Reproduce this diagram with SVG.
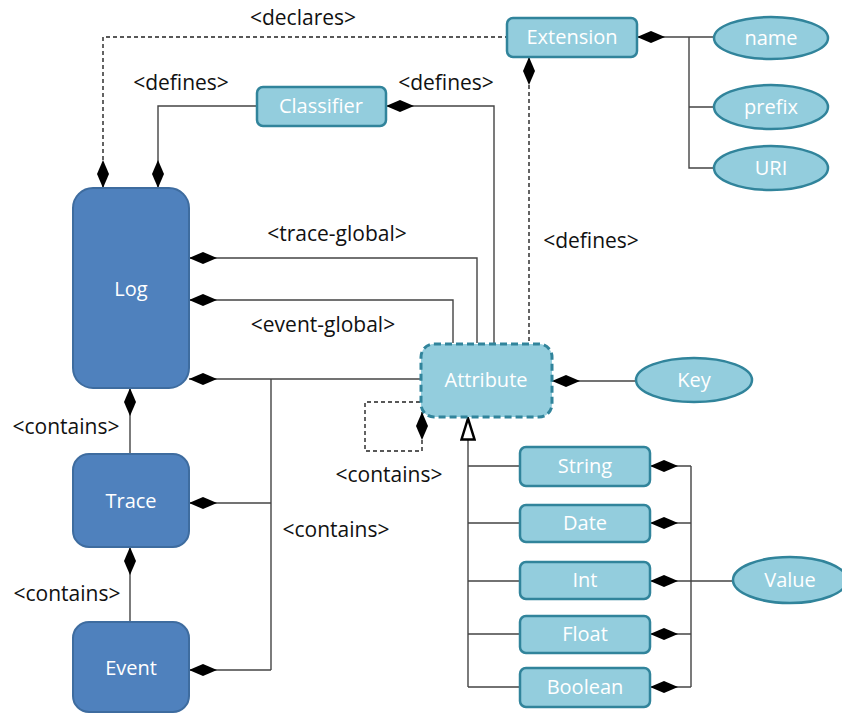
<svg xmlns="http://www.w3.org/2000/svg" width="842" height="715" viewBox="0 0 842 715">
  <style>
    .lbl { font-family: "Open Sans", "Noto Sans", "Liberation Sans", sans-serif; font-size: 21px; fill: #111; text-anchor: middle; }
    .ntxt { font-family: "Open Sans", "Noto Sans", "Liberation Sans", sans-serif; font-size: 20px; fill: #ffffff; text-anchor: middle; }
    .main { fill: #4f81bd; stroke: #3e6c9f; stroke-width: 2; }
    .sub { fill: #93cddd; stroke: #31849b; stroke-width: 2.5; }
    .abs { fill: #93cddd; stroke: #31849b; stroke-width: 3; stroke-dasharray: 7 4; }
    .ln { fill: none; stroke: #444; stroke-width: 1.4; }
    .dash { stroke: #222; stroke-dasharray: 4 3; }
    .comp { marker-start: url(#diamond); }
  </style>
  <defs>
    <marker id="diamond" viewBox="0 0 28 12" refX="0" refY="6" markerWidth="28" markerHeight="12" markerUnits="userSpaceOnUse" orient="auto">
      <path d="M0,6 L14,0 L28,6 L14,12 z" fill="#000"/>
    </marker>
    <marker id="triangle" viewBox="0 0 24 16" refX="23" refY="8" markerWidth="24" markerHeight="16" markerUnits="userSpaceOnUse" orient="auto">
      <path d="M1.5,1.5 L22.5,8 L1.5,14.5 z" fill="#fff" stroke="#000" stroke-width="2.5"/>
    </marker>
  </defs>

  <!-- connectors -->
  <g id="connectors">
    <path class="ln dash comp" d="M103,188 V37 H506"/>
    <path class="ln comp" d="M158,188 V106 H256"/>
    <path class="ln comp" d="M386,106 H494 V343"/>
    <path class="ln dash comp" d="M529,57 V343"/>
    <path class="ln comp" d="M637,37 H714"/>
    <path class="ln" d="M689,37 V168 H714 M689,107 H714"/>
    <path class="ln comp" d="M189,258 H477 V343"/>
    <path class="ln comp" d="M189,300 H453 V343"/>
    <path class="ln comp" d="M189,379 H420"/>
    <path class="ln comp" d="M189,503 H271"/>
    <path class="ln comp" d="M189,670 H271"/>
    <path class="ln" d="M271,379 V670"/>
    <path class="ln comp" d="M130,388 V454"/>
    <path class="ln comp" d="M130,547 V622"/>
    <path class="ln comp" d="M552,381 H636"/>
    <path class="ln dash comp" d="M422,412 V451 H365 V402 H420"/>
    <path class="ln" d="M468,687 V418" marker-end="url(#triangle)"/>
    <path class="ln" d="M468,466 H519 M468,523 H519 M468,581 H519 M468,634 H519 M468,687 H519"/>
    <path class="ln comp" d="M650,466 H691"/>
    <path class="ln comp" d="M650,523 H691"/>
    <path class="ln comp" d="M650,581 H691"/>
    <path class="ln comp" d="M650,634 H691"/>
    <path class="ln comp" d="M650,687 H691"/>
    <path class="ln" d="M691,466 V687 M691,581 H733"/>
  </g>

  <!-- connector labels -->
  <g id="labels">
    <text class="lbl" x="303" y="25">&lt;declares&gt;</text>
    <text class="lbl" x="181" y="90">&lt;defines&gt;</text>
    <text class="lbl" x="446" y="90">&lt;defines&gt;</text>
    <text class="lbl" x="337" y="241">&lt;trace-global&gt;</text>
    <text class="lbl" x="323" y="332">&lt;event-global&gt;</text>
    <text class="lbl" x="591" y="248">&lt;defines&gt;</text>
    <text class="lbl" x="389" y="482">&lt;contains&gt;</text>
    <text class="lbl" x="66" y="434">&lt;contains&gt;</text>
    <text class="lbl" x="67" y="601">&lt;contains&gt;</text>
    <text class="lbl" x="336" y="537">&lt;contains&gt;</text>
  </g>

  <!-- main elements -->
  <g id="log">
    <rect class="main" x="73" y="188" width="116" height="200" rx="20"/>
    <text class="ntxt" x="131" y="296">Log</text>
  </g>
  <g id="trace">
    <rect class="main" x="73" y="454" width="116" height="93" rx="16"/>
    <text class="ntxt" x="131" y="508">Trace</text>
  </g>
  <g id="event">
    <rect class="main" x="73" y="622" width="116" height="90" rx="16"/>
    <text class="ntxt" x="131" y="675">Event</text>
  </g>

  <!-- meta elements -->
  <g id="classifier">
    <rect class="sub" x="257" y="87" width="129" height="39" rx="6"/>
    <text class="ntxt" x="321" y="113">Classifier</text>
  </g>
  <g id="extension">
    <rect class="sub" x="507" y="18" width="130" height="39" rx="6"/>
    <text class="ntxt" x="572" y="44">Extension</text>
  </g>
  <g id="attribute">
    <rect class="abs" x="421" y="344" width="131" height="73" rx="13"/>
    <text class="ntxt" x="486" y="387">Attribute</text>
  </g>

  <!-- attribute types -->
  <g id="string">
    <rect class="sub" x="520" y="447" width="130" height="39" rx="6"/>
    <text class="ntxt" x="585" y="473">String</text>
  </g>
  <g id="date">
    <rect class="sub" x="520" y="505" width="130" height="37" rx="6"/>
    <text class="ntxt" x="585" y="530">Date</text>
  </g>
  <g id="int">
    <rect class="sub" x="520" y="562" width="130" height="37" rx="6"/>
    <text class="ntxt" x="585" y="587">Int</text>
  </g>
  <g id="float">
    <rect class="sub" x="520" y="616" width="130" height="37" rx="6"/>
    <text class="ntxt" x="585" y="641">Float</text>
  </g>
  <g id="boolean">
    <rect class="sub" x="520" y="668" width="130" height="39" rx="6"/>
    <text class="ntxt" x="585" y="694">Boolean</text>
  </g>

  <!-- properties -->
  <g id="name">
    <ellipse class="sub" cx="771" cy="38" rx="57" ry="21"/>
    <text class="ntxt" x="771" y="45">name</text>
  </g>
  <g id="prefix">
    <ellipse class="sub" cx="771" cy="107" rx="57" ry="22"/>
    <text class="ntxt" x="771" y="114">prefix</text>
  </g>
  <g id="uri">
    <ellipse class="sub" cx="771" cy="168" rx="57" ry="22"/>
    <text class="ntxt" x="771" y="175">URI</text>
  </g>
  <g id="key">
    <ellipse class="sub" cx="694" cy="380" rx="58" ry="22"/>
    <text class="ntxt" x="694" y="387">Key</text>
  </g>
  <g id="value">
    <ellipse class="sub" cx="790" cy="580" rx="57" ry="23"/>
    <text class="ntxt" x="790" y="587">Value</text>
  </g>
</svg>
